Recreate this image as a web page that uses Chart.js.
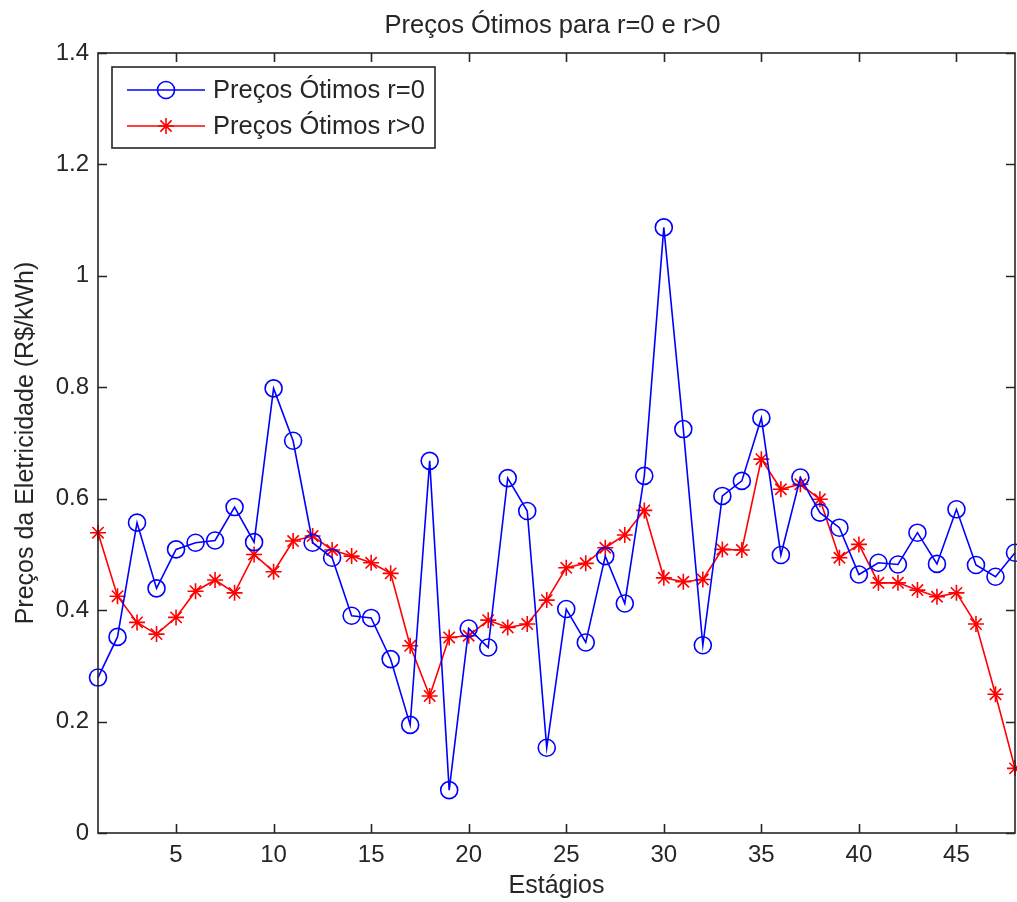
<!DOCTYPE html>
<html>
<head>
<meta charset="utf-8">
<script src="https://cdn.jsdelivr.net/npm/chart.js@4.4.1/dist/chart.umd.min.js"></script>
<style>
  html, body { margin: 0; padding: 0; background: #ffffff; }
  #wrap { width: 1017px; height: 902px; }
</style>
</head>
<body>
<div id="wrap"><canvas id="c" width="1017" height="902"></canvas></div>
<script>
// Stages (Estágios)
const stages = [1,2,3,4,5,6,7,8,9,10,11,12,13,14,15,16,17,18,19,20,21,22,23,24,
                25,26,27,28,29,30,31,32,33,34,35,36,37,38,39,40,41,42,43,44,45,46,47,48];

// Optimal prices, r = 0 (R$/kWh)
const pricesR0 = [0.279,0.352,0.557,0.439,0.509,0.521,0.525,0.585,0.522,0.798,0.704,0.521,
                  0.494,0.390,0.386,0.312,0.194,0.668,0.077,0.367,0.333,0.637,0.578,0.153,
                  0.402,0.342,0.497,0.412,0.641,1.087,0.725,0.337,0.605,0.632,0.745,0.499,
                  0.638,0.575,0.548,0.464,0.485,0.482,0.539,0.483,0.581,0.481,0.460,0.503];

// Optimal prices, r > 0 (R$/kWh)
const pricesRpos = [0.539,0.425,0.378,0.357,0.387,0.434,0.454,0.431,0.500,0.469,0.524,0.533,
                    0.508,0.497,0.485,0.466,0.336,0.246,0.351,0.354,0.382,0.369,0.375,0.418,
                    0.476,0.484,0.512,0.535,0.579,0.458,0.451,0.455,0.509,0.508,0.671,0.617,
                    0.626,0.599,0.494,0.518,0.449,0.449,0.436,0.424,0.431,0.375,0.249,0.116];

const xTicks = [5,10,15,20,25,30,35,40,45];
const yTicks = [0,0.2,0.4,0.6,0.8,1,1.2,1.4];

const seriesNames = ['Preços Ótimos r=0', 'Preços Ótimos r>0'];
const chartTitle = 'Preços Ótimos para r=0 e r>0';
const xTitle = 'Estágios';
const yTitle = 'Preços da Eletricidade (R$/kWh)';

const FONT = '"Liberation Sans", Arial, Helvetica, sans-serif';
const INK = '#262626';
const BLUE = '#0000ff';
const RED = '#ff0000';

function drawStar(ctx, x, y, r) {
  ctx.beginPath();
  ctx.moveTo(x, y - r); ctx.lineTo(x, y + r);
  ctx.moveTo(x - r, y); ctx.lineTo(x + r, y);
  const d = r * Math.SQRT1_2;
  ctx.moveTo(x - d, y - d); ctx.lineTo(x + d, y + d);
  ctx.moveTo(x - d, y + d); ctx.lineTo(x + d, y - d);
  ctx.stroke();
}

// Axes box with inward ticks, the title and the boxed legend
const frame = {
  id: 'frame',
  afterDatasetsDraw(chart) {
    const ctx = chart.ctx;
    const a = chart.chartArea;
    const xs = chart.scales.x, ys = chart.scales.y;
    const tl = 9;
    ctx.save();
    ctx.strokeStyle = INK;
    ctx.lineWidth = 1.6;
    ctx.strokeRect(a.left, a.top, a.right - a.left, a.bottom - a.top);
    ctx.beginPath();
    xTicks.forEach(v => {
      const px = Math.round(xs.getPixelForValue(v)) + 0.5;
      ctx.moveTo(px, a.bottom); ctx.lineTo(px, a.bottom - tl);
      ctx.moveTo(px, a.top); ctx.lineTo(px, a.top + tl);
    });
    yTicks.forEach(v => {
      const py = Math.round(ys.getPixelForValue(v)) + 0.5;
      ctx.moveTo(a.left, py); ctx.lineTo(a.left + tl, py);
      ctx.moveTo(a.right, py); ctx.lineTo(a.right - tl, py);
    });
    ctx.stroke();

    // title
    ctx.fillStyle = INK;
    ctx.font = '25.5px ' + FONT;
    ctx.textAlign = 'center';
    ctx.textBaseline = 'middle';
    ctx.fillText(chartTitle, (a.left + a.right) / 2 - 4, 26);

    // legend
    const bx = 112, by = 67, bw = 323, bh = 81;
    ctx.fillStyle = '#ffffff';
    ctx.fillRect(bx, by, bw, bh);
    ctx.lineWidth = 1.6;
    ctx.strokeStyle = INK;
    ctx.strokeRect(bx, by, bw, bh);
    const rows = [
      { y: by + 23, color: BLUE, kind: 'circle' },
      { y: by + 59, color: RED, kind: 'star' }
    ];
    rows.forEach((r, i) => {
      ctx.strokeStyle = r.color;
      ctx.lineWidth = 1.6;
      ctx.beginPath();
      ctx.moveTo(127, r.y); ctx.lineTo(205, r.y);
      ctx.stroke();
      if (r.kind === 'circle') {
        ctx.beginPath();
        ctx.arc(166, r.y, 8.5, 0, Math.PI * 2);
        ctx.stroke();
      } else {
        drawStar(ctx, 166, r.y, 8);
      }
      ctx.fillStyle = INK;
      ctx.font = '25.5px ' + FONT;
      ctx.textAlign = 'left';
      ctx.textBaseline = 'middle';
      ctx.fillText(seriesNames[i], 213, r.y + 1);
    });
    ctx.restore();
  }
};

const toPoints = vals => stages.map((s, i) => ({ x: s, y: vals[i] }));

new Chart(document.getElementById('c'), {
  type: 'line',
  data: {
    datasets: [
      {
        label: seriesNames[0],
        data: toPoints(pricesR0),
        borderColor: BLUE,
        borderWidth: 1.6,
        pointStyle: 'circle',
        pointRadius: 8.5,
        pointBorderWidth: 1.6,
        pointBorderColor: BLUE,
        pointBackgroundColor: 'rgba(0,0,0,0)',
        tension: 0,
        clip: false
      },
      {
        label: seriesNames[1],
        data: toPoints(pricesRpos),
        borderColor: RED,
        borderWidth: 1.6,
        pointStyle: 'star',
        pointRadius: 8,
        pointBorderWidth: 1.6,
        pointBorderColor: RED,
        pointBackgroundColor: RED,
        tension: 0,
        clip: false
      }
    ]
  },
  options: {
    responsive: false,
    animation: false,
    devicePixelRatio: 1,
    layout: { autoPadding: false, padding: { left: 0, right: 2, top: 53, bottom: 0 } },
    plugins: {
      legend: { display: false },
      title: { display: false },
      tooltip: { enabled: false }
    },
    scales: {
      x: {
        type: 'linear',
        min: 1,
        max: 48,
        afterBuildTicks: s => { s.ticks = xTicks.map(v => ({ value: v })); },
        afterFit: s => { s.height = 69; s.paddingLeft = 0; s.paddingRight = 0; },
        grid: { display: false, drawTicks: false },
        border: { display: false },
        ticks: {
          color: INK,
          font: { family: FONT, size: 24 },
          padding: 8,
          maxRotation: 0,
          autoSkip: false
        },
        title: {
          display: true,
          text: xTitle,
          color: INK,
          font: { family: FONT, size: 25 },
          padding: { top: 0, bottom: 1 }
        }
      },
      y: {
        type: 'linear',
        min: 0,
        max: 1.4,
        afterBuildTicks: s => { s.ticks = yTicks.map(v => ({ value: v })); },
        afterFit: s => { s.width = 98; },
        grid: { display: false, drawTicks: false },
        border: { display: false },
        ticks: {
          color: INK,
          font: { family: FONT, size: 24 },
          padding: 9,
          callback: v => String(v)
        },
        title: {
          display: true,
          text: yTitle,
          color: INK,
          font: { family: FONT, size: 25 },
          padding: { top: 11, bottom: 0 }
        }
      }
    }
  },
  plugins: [frame]
});
</script>
</body>
</html>
